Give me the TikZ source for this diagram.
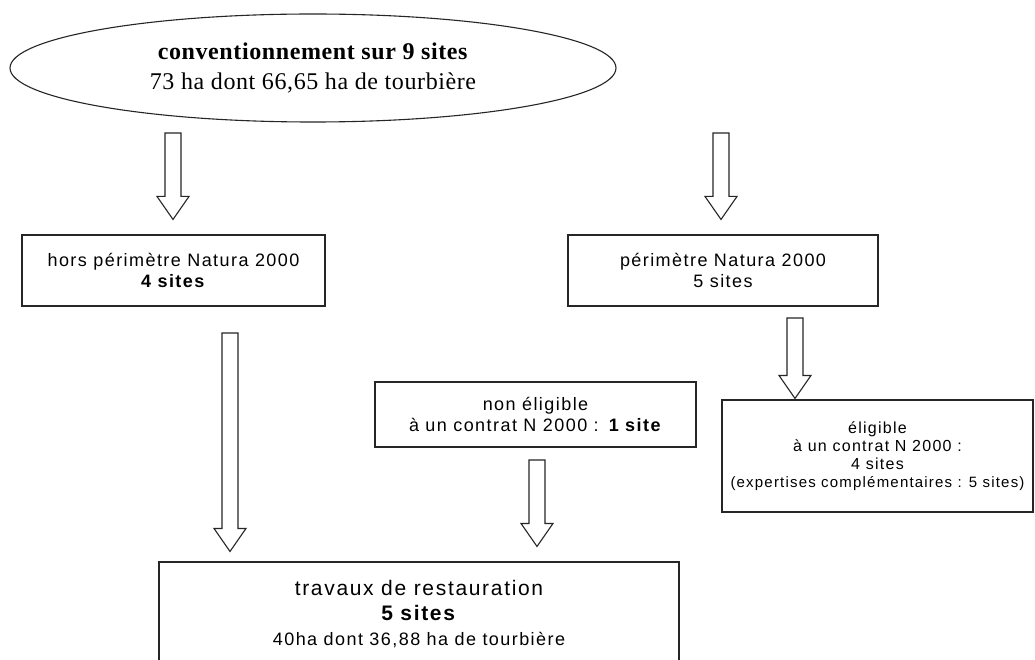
\documentclass[tikz,border=0pt]{standalone}
\usepackage{fontspec}
\setmainfont{Liberation Serif}
\newfontfamily\boxfont[LetterSpace=8]{Liberation Sans}
\newfontfamily\titlefont[LetterSpace=2.5]{Liberation Serif}
\usetikzlibrary{shapes.geometric,calc}

\newcommand\hollowarrow[2]{%
  \draw[blockarrow] let \p1=(#1), \p2=(#2) in
    (\x1-8pt,\y1) -- (\x1-8pt,\y2+23pt) -- (\x1-16pt,\y2+23pt) -- (\x1,\y2)
    -- (\x1+16pt,\y2+23pt) -- (\x1+8pt,\y2+23pt) -- (\x1+8pt,\y1) -- cycle;}

\begin{document}
\begin{tikzpicture}[x=1pt, y=-1pt,
  box/.style={draw=black!85, line width=1.1pt, align=center, inner sep=0pt,
    font=\boxfont\fontsize{18}{21}\selectfont},
  blockarrow/.style={draw=black!85, line width=1.1pt, fill=white, line join=miter}]
  \useasboundingbox[fill=white] (0,0) rectangle (1035,660);

  \node[draw=black!85, line width=1.1pt, ellipse, minimum width=606pt, minimum height=108pt,
    align=center, font=\titlefont\fontsize{24}{30}\selectfont] (conv) at (313,68)
    {\textbf{conventionnement sur 9 sites}\\73 ha dont 66,65 ha de tourbière};

  \node[box, minimum width=303pt, minimum height=71pt] (hors) at (173.5,270.5)
    {hors périmètre Natura 2000\\\textbf{4 sites}};
  \node[box, minimum width=310pt, minimum height=71pt] (perim) at (723,270.5)
    {périmètre Natura 2000\\5 sites};
  \node[box, minimum width=321pt, minimum height=65pt] (nonelig) at (535.5,414.5)
    {non éligible\\à un contrat N 2000 : \textbf{1 site}};
  \node[box, minimum width=311pt, minimum height=112pt,
    font=\boxfont\fontsize{16}{18}\selectfont] (elig) at (877.5,456)
    {éligible\\à un contrat N 2000 :\\4 sites\\
     {\fontsize{15}{17}\selectfont (expertises complémentaires : 5 sites)}};
  \node[box, minimum width=520pt, minimum height=104pt,
    font=\boxfont\fontsize{21}{25}\selectfont] (travaux) at (419,614)
    {travaux de restauration\\\textbf{5 sites}\\
     {\fontsize{18}{21}\selectfont 40ha dont 36,88 ha de tourbière}};

  \coordinate (s1) at (173,133);
  \coordinate (s2) at (721,133);
  \coordinate (s3) at (230,333);
  \coordinate (s4) at (795,318);
  \coordinate (s5) at (537,460);

  \hollowarrow{s1}{$(hors.north -| s1)+(0,-15)$}
  \hollowarrow{s2}{$(perim.north -| s2)+(0,-15)$}
  \hollowarrow{s3}{$(travaux.north -| s3)+(0,-10)$}
  \hollowarrow{s4}{$(elig.north -| s4)+(0,-1)$}
  \hollowarrow{s5}{$(travaux.north -| s5)+(0,-15)$}
\end{tikzpicture}
\end{document}
